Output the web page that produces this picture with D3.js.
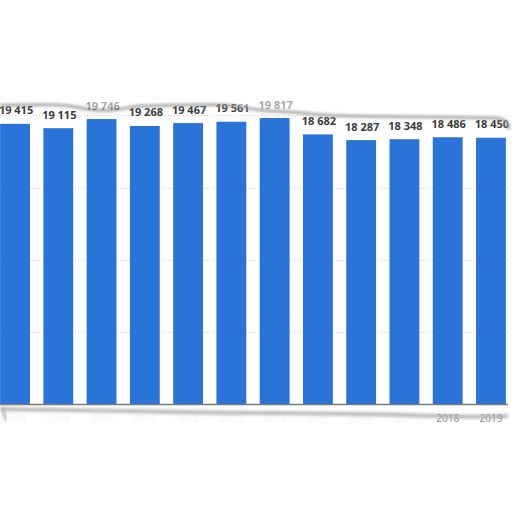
<!DOCTYPE html>
<html>
<head>
<meta charset="utf-8">
<script src="https://cdn.jsdelivr.net/npm/d3@7"></script>
<style>
  html, body { margin: 0; padding: 0; background: #fff; }
  svg { display: block; }
</style>
</head>
<body>
<div id="chart"></div>
<script>
// data
var years = ["2008", "2009", "2010", "2011", "2012", "2013", "2014", "2015", "2016", "2017", "2018", "2019"];
var values = [19415, 19115, 19746, 19268, 19467, 19561, 19817, 18682, 18287, 18348, 18486, 18450];
var gridTicks = [5000, 10000, 15000, 20000];
// which year labels survive the torn edge
var clearYears = ["2018", "2019"];

var width = 512, height = 512;
var baseY = 404;

var svg = d3.select("#chart")
  .append("svg")
  .attr("width", width)
  .attr("height", height);

var defs = svg.append("defs");
defs.append("filter").attr("id", "blur")
  .attr("x", "-20%").attr("y", "-50%").attr("width", "140%").attr("height", "200%")
  .append("feGaussianBlur").attr("stdDeviation", 1.6);
defs.append("filter").attr("id", "blur2")
  .attr("x", "-20%").attr("y", "-50%").attr("width", "140%").attr("height", "200%")
  .append("feGaussianBlur").attr("stdDeviation", 1.1);

var x = d3.scaleBand()
  .domain(years)
  .range([-6.6, 512.6])
  .paddingInner(0.31)
  .paddingOuter(0.155);

var y = d3.scaleLinear()
  .domain([0, 20000])
  .range([baseY, baseY - 288.6]);

var fmt = d3.formatLocale({ decimal: ".", thousands: " ", grouping: [3], currency: ["", ""] }).format(",d");

// dotted gridlines
svg.append("g")
  .selectAll("line")
  .data(gridTicks)
  .enter()
  .append("line")
  .attr("x1", 0)
  .attr("x2", 508)
  .attr("y1", function(d) { return Math.round(y(d)) + 0.5; })
  .attr("y2", function(d) { return Math.round(y(d)) + 0.5; })
  .attr("stroke", "#cfcfcf")
  .attr("stroke-width", 1)
  .attr("stroke-dasharray", "1,2");

// bars
svg.append("g")
  .selectAll("rect")
  .data(values)
  .enter()
  .append("rect")
  .attr("x", function(d, i) { return x(years[i]); })
  .attr("width", x.bandwidth())
  .attr("y", function(d) { return y(d); })
  .attr("height", function(d) { return baseY - y(d); })
  .attr("fill", "#2a73d8");

// value labels
svg.append("g")
  .selectAll("text")
  .data(values)
  .enter()
  .append("text")
  .attr("x", function(d, i) { return x(years[i]) + x.bandwidth() / 2 + 1; })
  .attr("y", function(d) { return y(d) - 9.5; })
  .attr("text-anchor", "middle")
  .attr("font-family", "'Open Sans', sans-serif")
  .attr("font-weight", 700)
  .attr("font-size", 11)
  .attr("fill", "#3a3a3a")
  .text(function(d) { return fmt(d); });

// axis line
svg.append("line")
  .attr("x1", 0).attr("x2", 508)
  .attr("y1", baseY + 0.5).attr("y2", baseY + 0.5)
  .attr("stroke", "#7a7a7a")
  .attr("stroke-width", 1.6);

// year labels, most of them lost in the torn edge
svg.append("g")
  .selectAll("text")
  .data(years)
  .enter()
  .append("text")
  .attr("x", function(d) { return x(d) + x.bandwidth() / 2; })
  .attr("y", 422)
  .attr("text-anchor", "middle")
  .attr("font-family", "'Open Sans', sans-serif")
  .attr("font-size", 10)
  .attr("fill", "#8a8a8a")
  .attr("opacity", function(d) { return clearYears.indexOf(d) >= 0 ? 1 : 0.14; })
  .attr("filter", function(d) { return clearYears.indexOf(d) >= 0 ? null : "url(#blur2)"; })
  .text(function(d) { return d; });

// torn paper edge on top: fade everything above it
var tornTop = [[0, 104], [40, 103], [75, 104], [88, 109], [120, 109], [132, 104], [170, 104], [205, 103],
  [240, 104], [255, 109], [285, 110], [298, 111], [322, 114], [380, 115], [450, 116],
  [500, 116], [507, 119], [509, 128]];
var line = d3.line().curve(d3.curveBasis);

var fadeArea = [[0, 0]].concat(tornTop).concat([[512, 128], [512, 0]]);
svg.append("path")
  .attr("d", line(fadeArea) + "Z")
  .attr("fill", "#fff")
  .attr("opacity", 0.55);

svg.append("path")
  .attr("d", line(tornTop.map(function(p) { return [p[0], p[1] + 1.5]; })))
  .attr("fill", "none")
  .attr("stroke", "#9a9a9a")
  .attr("stroke-width", 2.5)
  .attr("filter", "url(#blur)");

// right edge shadow
svg.append("line")
  .attr("x1", 509.5).attr("x2", 509.5)
  .attr("y1", 125).attr("y2", 412)
  .attr("stroke", "#b0b0b0")
  .attr("stroke-width", 2.5)
  .attr("filter", "url(#blur)");

// bottom torn shadow under the axis
var tornBottom = [[0, 409], [60, 410], [140, 411], [220, 413], [300, 413], [380, 414], [430, 416], [470, 417], [508, 416]];
svg.append("path")
  .attr("d", line(tornBottom))
  .attr("fill", "none")
  .attr("stroke", "#a8a8a8")
  .attr("stroke-width", 4)
  .attr("opacity", 0.8)
  .attr("filter", "url(#blur)");
svg.append("path")
  .attr("d", line([[2, 408], [4, 414], [6, 420]]))
  .attr("fill", "none")
  .attr("stroke", "#b5b5b5")
  .attr("stroke-width", 3)
  .attr("filter", "url(#blur)");
</script>
</body>
</html>
